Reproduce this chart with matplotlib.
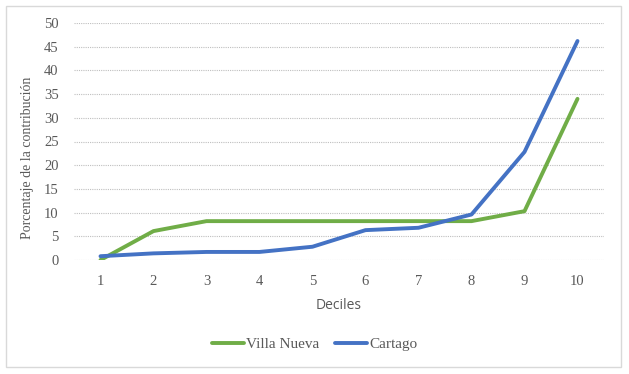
import matplotlib.pyplot as plt
from matplotlib.patches import Rectangle

deciles = [1, 2, 3, 4, 5, 6, 7, 8, 9, 10]
villa_nueva = [0.0, 6.1, 8.2, 8.2, 8.2, 8.2, 8.2, 8.2, 10.3, 34.0]
cartago = [0.8, 1.4, 1.7, 1.7, 2.8, 6.3, 6.8, 9.6, 22.8, 46.2]
yticks = [0, 5, 10, 15, 20, 25, 30, 35, 40, 45, 50]

serif = ['Liberation Serif', 'DejaVu Serif']

fig = plt.figure(figsize=(6.29, 3.74), dpi=100)
ax = fig.add_axes([74 / 629, 1 - 260 / 374, 530 / 629, 237 / 374])

# chart border
fig.patches.append(Rectangle((6 / 629, 1 - 367 / 374), 615 / 629, 361 / 374,
                             transform=fig.transFigure, fill=False,
                             edgecolor='#d9d9d9', linewidth=1))

ax.plot(deciles, villa_nueva, color='#70ad47', linewidth=2.8, label='Villa Nueva',
        solid_joinstyle='round', solid_capstyle='round')
ax.plot(deciles, cartago, color='#4472c4', linewidth=2.8, label='Cartago',
        solid_joinstyle='round', solid_capstyle='round')

ax.set_xlim(0.5, 10.5)
ax.set_ylim(0, 50)
ax.set_xticks(deciles)
ax.set_yticks(yticks)
ax.grid(axis='y', color='#bfbfbf', linestyle=(0, (1, 1)), linewidth=0.8)
ax.set_axisbelow(True)
for s in ax.spines.values():
    s.set_visible(False)
ax.tick_params(length=0, labelsize=10.5, colors='#595959')
ax.tick_params(axis='x', pad=11)
ax.tick_params(axis='y', pad=11)
for lbl in ax.get_xticklabels() + ax.get_yticklabels():
    lbl.set_family(serif)

ax.set_xlabel('Deciles', fontsize=10, color='#595959', family='Open Sans', labelpad=7)
ax.set_ylabel('Porcentaje de la contribución', fontsize=10, color='#595959',
              family=serif, labelpad=6)
ax.yaxis.set_label_coords(-0.075, 0.43)

leg = fig.legend(loc='center', bbox_to_anchor=(0.5, 1 - 344 / 374), ncol=2, frameon=False,
                 prop={'family': serif, 'size': 11}, handlelength=2.1, columnspacing=1.0,
                 handletextpad=0.15)
for t in leg.get_texts():
    t.set_color('#595959')

fig.savefig('out.png', dpi=100)
